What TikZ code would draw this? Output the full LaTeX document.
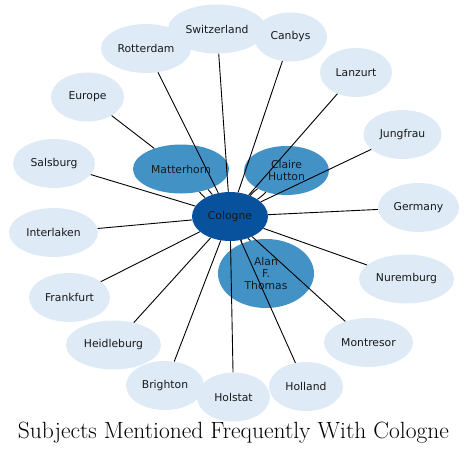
\documentclass[tikz,border=0pt]{standalone}
\usepackage{fontspec}
\usetikzlibrary{shapes.geometric}
\newfontfamily\labelfont{DejaVu Sans}

\definecolor{leafblue}{HTML}{DEEBF7}
\definecolor{closeblue}{HTML}{4292C6}
\definecolor{hubblue}{HTML}{08519C}

\tikzset{
    subject/.style={ellipse, inner sep=0pt, minimum height=49pt, align=center,
        font=\labelfont\fontsize{10.8}{12}\selectfont, text=black!90},
    leafnode/.style={subject, fill=leafblue},
    closenode/.style={subject, fill=closeblue},
    hubnode/.style={subject, fill=hubblue},
    mention/.style={black, line width=0.9pt}
}

\begin{document}
\begin{tikzpicture}[x=1pt, y=-1pt]
    \useasboundingbox (0,0) rectangle (468,457);

    % Outer subjects
    \foreach \name/\x/\y/\w/\txt in {
        rotterdam/146/48.5/90/Rotterdam,
        switzerland/217/29/98/Switzerland,
        canbys/290.5/37/73/Canbys,
        lanzurt/356/72.5/72/Lanzurt,
        europe/87.5/97/73/Europe,
        jungfrau/402.5/134.5/78/Jungfrau,
        salsburg/54/163.5/82/Salsburg,
        germany/418.5/207.5/81/Germany,
        interlaken/53.5/232.5/89/Interlaken,
        nuremburg/406.5/279/95/Nuremburg,
        frankfurt/69.5/297.5/81/Frankfurt,
        montresor/368.5/342.5/89/Montresor,
        heidleburg/113.5/345/95/Heidleburg,
        brighton/165/385.5/78/Brighton,
        holland/306/386.5/74/Holland,
        holstat/233.5/397/73/Holstat}
        \node[leafnode, minimum width=\w pt] (\name) at (\x,\y) {\txt};

    % Close subjects
    \node[closenode, minimum width=96pt] (matterhorn) at (181,169) {Matterhorn};
    \node[closenode, minimum width=85pt] (claire) at (286.5,170.5) {Claire\\Hutton};
    \node[closenode, minimum width=96pt, minimum height=69pt] (alan) at (266,273.5) {Alan\\F.\\Thomas};

    % Centre
    \node[hubnode, minimum width=76pt] (cologne) at (230,216.5) {Cologne};

    % Mentions
    \foreach \n in {rotterdam,switzerland,canbys,lanzurt,jungfrau,salsburg,
        germany,interlaken,nuremburg,frankfurt,montresor,heidleburg,
        brighton,holland,holstat}
        \draw[mention] (\n) -- (cologne);
    \draw[mention] (europe) -- (matterhorn);
    \foreach \n in {matterhorn,claire,alan} {
        \draw[mention] (cologne) to[bend left=7] (\n);
        \draw[mention] (cologne) to[bend right=7] (\n);
    }

    % Title
    \node[anchor=base, font=\fontsize{23.5}{27}\selectfont] (title) at (233.4,438.3)
        {Subjects Mentioned Frequently With Cologne};
\end{tikzpicture}
\end{document}
